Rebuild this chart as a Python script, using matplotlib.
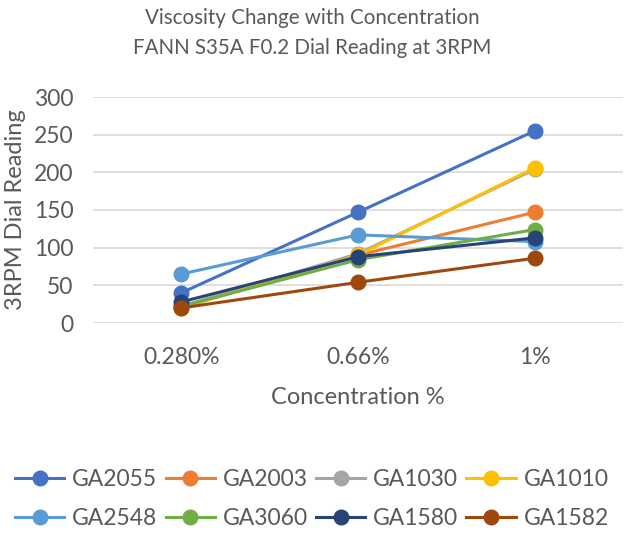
import numpy as np
import matplotlib.pyplot as plt

plt.rcParams['font.family'] = ['Lato', 'DejaVu Sans']

categories = ['0.280%', '0.66%', '1%']
series_names = ['GA2055', 'GA2003', 'GA1030', 'GA1010',
                'GA2548', 'GA3060', 'GA1580', 'GA1582']
GA2055 = [40, 147, 255]
GA2003 = [22, 90, 147]
GA1030 = [22, 92, 204]
GA1010 = [20, 90, 206]
GA2548 = [65, 117, 108]
GA3060 = [22, 84, 124]
GA1580 = [28, 88, 113]
GA1582 = [20, 54, 86]
yticks = [0, 50, 100, 150, 200, 250, 300]

colors = ['#4472C4', '#ED7D31', '#A5A5A5', '#FFC000',
          '#5B9BD5', '#70AD47', '#264478', '#9E480E']
txt = '#595959'


def main():
    data = [GA2055, GA2003, GA1030, GA1010, GA2548, GA3060, GA1580, GA1582]
    fig = plt.figure(figsize=(6.25, 5.35), dpi=100)
    ax = fig.add_axes([93/625, (535-323)/535, 530/625, 226/535])
    x = np.arange(len(categories))
    lines = []
    for name, vals, c in zip(series_names, data, colors):
        l, = ax.plot(x, vals, '-o', color=c, lw=2.2, ms=10.5, label=name, zorder=3)
        lines.append(l)

    ax.set_xlim(-0.5, 2.5)
    ax.set_ylim(0, 300)
    ax.set_yticks(yticks)
    ax.set_xticks(x)
    ax.set_xticklabels(categories)
    ax.grid(axis='y', color='#D9D9D9', lw=1.2)
    ax.set_axisbelow(True)
    for s in ax.spines.values():
        s.set_visible(False)
    ax.tick_params(length=0, labelsize=16.5, colors=txt, pad=14)
    ax.tick_params(axis='x', pad=17)
    ax.set_xlabel('Concentration %', fontsize=17, color=txt, labelpad=14)
    ax.set_ylabel('3RPM Dial Reading', fontsize=17, color=txt, labelpad=6)

    fig.text(0.5, 1 - 33/535, 'Viscosity Change with Concentration\nFANN S35A F0.2 Dial Reading at 3RPM',
             ha='center', va='center', fontsize=14.8, color=txt, linespacing=1.6)

    # row-major order for the 2x4 legend
    order = [0, 4, 1, 5, 2, 6, 3, 7]
    fig.legend([lines[i] for i in order], [series_names[i] for i in order],
               loc='center', bbox_to_anchor=(312/625, 1 - 499/535), ncol=4, frameon=False,
               fontsize=16.5, handlelength=2.15, columnspacing=0.35, handletextpad=0.35,
               labelspacing=0.75, labelcolor=txt, borderpad=0)

    fig.savefig('out.png', dpi=100)


if __name__ == '__main__':
    main()
